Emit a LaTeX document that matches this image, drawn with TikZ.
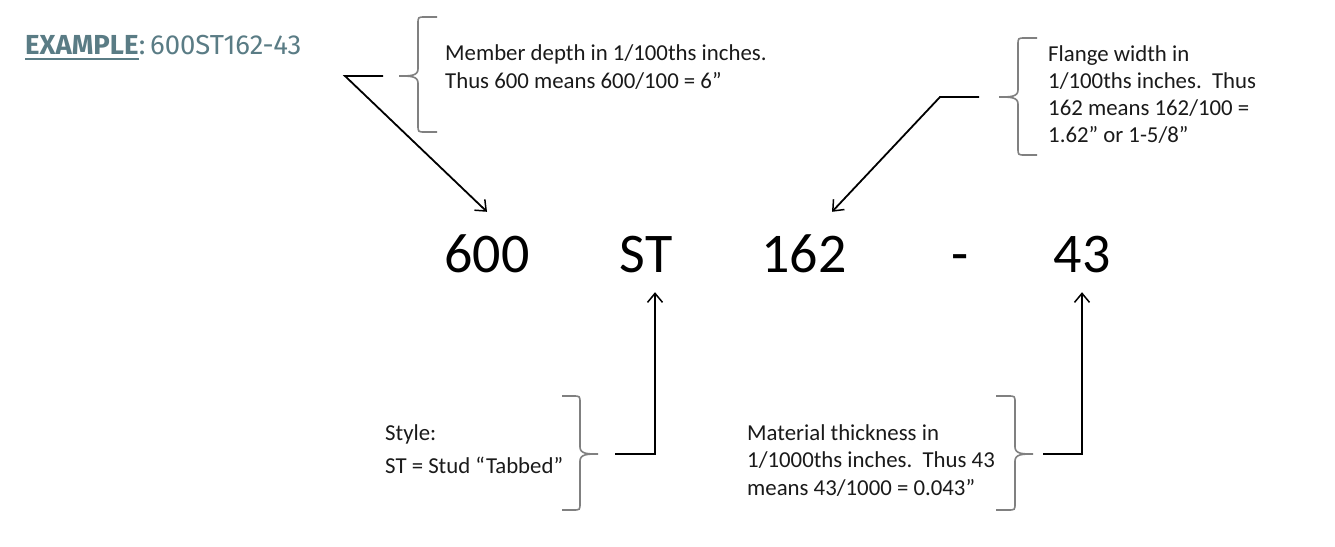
\documentclass[tikz,border=0pt]{standalone}
\usepackage{fontspec}
\setmainfont{Carlito}
\newfontfamily\hdrfont{Fira Sans}
\usetikzlibrary{arrows.meta,calc}
\definecolor{hdrcol}{HTML}{5A7C85}
\definecolor{txtcol}{HTML}{1A1A1A}
\definecolor{bracecol}{HTML}{808080}
\tikzset{
  big/.style={font=\fontsize{56}{60}\selectfont, text=black, inner sep=0pt, text height=60pt, text depth=20pt, anchor=base},
  callout/.style={font=\fontsize{22.8}{27}\selectfont, text=txtcol, inner sep=0pt, anchor=base west},
  conn/.style={draw=black, line width=1.8pt},
  arr/.style={conn, -{Straight Barb[length=9pt,width=15pt,line width=1.5pt]}},
  bracepath/.style={draw=bracecol, line width=1.6pt},
}
\begin{document}
\begin{tikzpicture}[x=1pt,y=-1pt]
\path[use as bounding box, fill=white] (0,0) rectangle (1335,546);
% header
\node[font=\hdrfont\fontsize{27.5}{32}\selectfont\bfseries, text=hdrcol, inner sep=0pt, anchor=base west] (ex) at (25,54) {EXAMPLE};
\node[font=\hdrfont\fontsize{27.5}{32}\selectfont, text=hdrcol, inner sep=0pt, anchor=base west] (exr) at (ex.base east) {:\,600ST162-43};
\draw[hdrcol, line width=2pt] ($(ex.base west)+(0,5)$) -- ($(ex.base east)+(0,5)$);
% big code
\node[big] (n600) at (487,272) {600};
\node[big] (nST) at (646,272) {ST};
\node[big] (n162) at (804,272) {162};
\node[big] (ndash) at (960,272) {-};
\node[big] (n43) at (1082,272) {43};
% callout texts
\node[callout] (t1a) at (445,60) {Member depth in 1/100ths inches.};
\node[callout] (t1b) at (445,88) {Thus 600 means 600/100 = 6”};
\node[callout] (t2a) at (1048,61) {Flange width in};
\node[callout] (t2b) at (1048,88) {1/100ths inches.\ \ Thus};
\node[callout] (t2c) at (1048,115) {162 means 162/100 =};
\node[callout] (t2d) at (1048,142) {1.62” or 1-5/8”};
\node[callout] (t3a) at (385,440) {Style:};
\node[callout] (t3b) at (385,473) {ST = Stud “Tabbed”};
\node[callout] (t4a) at (747,440) {Material thickness in};
\node[callout] (t4b) at (747,467) {1/1000ths inches.\ \ Thus 43};
\node[callout] (t4c) at (747,495) {means 43/1000 = 0.043”};
% braces
\draw[bracepath] (437,17) -- (425,17) .. controls (418,17) .. (418,24) -- (418,69) .. controls (418,76) and (410,76) .. (399,76) .. controls (410,76) and (418,76) .. (418,83) -- (418,125) .. controls (418,132) .. (425,132) -- (437,132);
\draw[bracepath] (1037,38) -- (1025,38) .. controls (1018,38) .. (1018,45) -- (1018,90) .. controls (1018,97) and (1010,97) .. (999,97) .. controls (1010,97) and (1018,97) .. (1018,104) -- (1018,148) .. controls (1018,155) .. (1025,155) -- (1037,155);
\draw[bracepath] (562,396) -- (573,396) .. controls (580,396) .. (580,403) -- (580,447) .. controls (580,454) and (588,454) .. (598,454) .. controls (588,454) and (580,454) .. (580,461) -- (580,503) .. controls (580,510) .. (573,510) -- (562,510);
\draw[bracepath] (996,396) -- (1008,396) .. controls (1015,396) .. (1015,403) -- (1015,447) .. controls (1015,454) and (1023,454) .. (1033,454) .. controls (1023,454) and (1015,454) .. (1015,461) -- (1015,503) .. controls (1015,510) .. (1008,510) -- (996,510);
% connectors
\coordinate (h1) at (383,76);
\coordinate (k1) at (345,76);
\draw[arr, line join=miter] (h1) -- (k1) -- (n600.north);
\coordinate (h2) at (979,97);
\coordinate (k2) at (940,97);
\draw[arr] (h2) -- (k2) -- ($(n162.north)+(28,0)$);
\coordinate (h3) at (615,454);
\coordinate (k3) at (655,454);
\draw[arr] (h3) -- (k3) -- (k3 |- nST.south);
\coordinate (h4) at (1043,454);
\coordinate (k4) at (1082,454);
\draw[arr] (h4) -- (k4) -- (k4 |- n43.south);
\end{tikzpicture}
\end{document}
